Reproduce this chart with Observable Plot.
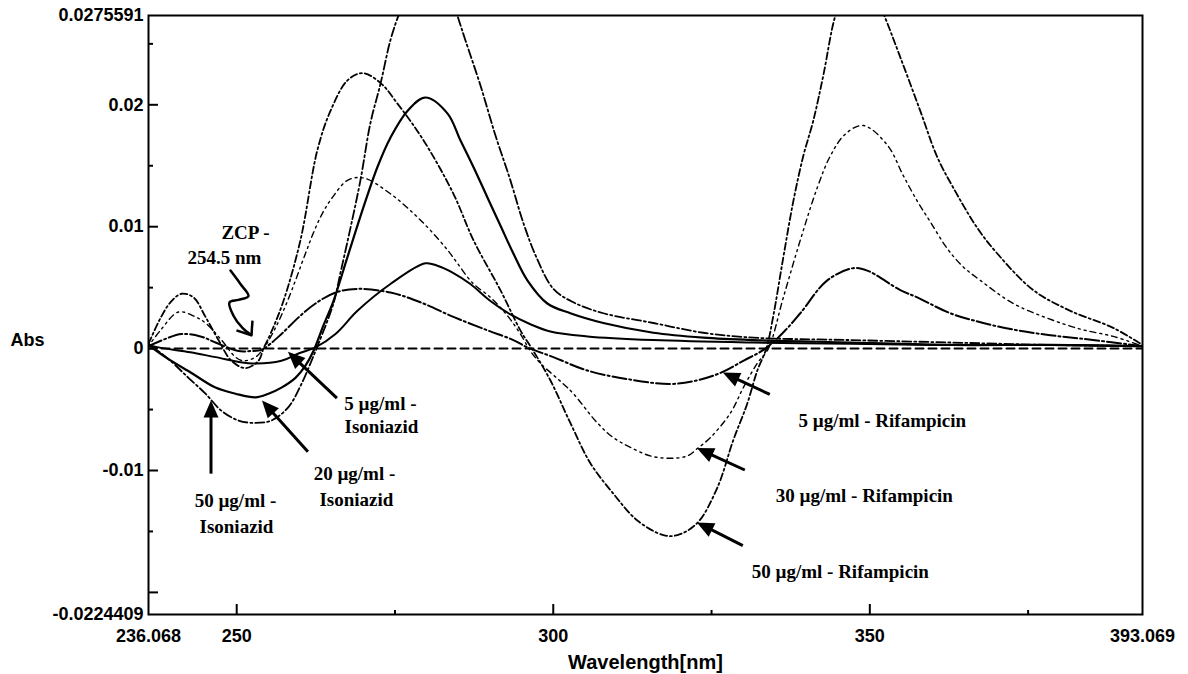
<!DOCTYPE html>
<html>
<head>
<meta charset="utf-8">
<script src="https://cdn.jsdelivr.net/npm/d3@7"></script>
<script src="https://cdn.jsdelivr.net/npm/@observablehq/plot@0.6"></script>
<style>
  html, body { margin: 0; padding: 0; background: #fff; }
  #chart svg { display: block; }
</style>
</head>
<body>
<div id="chart"></div>
<script>
// ---------- data (wavelength in nm, first-derivative absorbance) ----------
const iso5Nm  = [236.07,237.65,242.70,246.65,251.86,257.07,259.75,262.44,265.60,269.07,274.28,279.81,281.70,284.23,286.91,290.07,293.23,296.39,299.54,305.39,315.81,331.60,346.92,362.71,378.50,393.07];
const iso5Abs = [0.0003,0.0001,-0.0003,-0.0007,-0.0012,-0.0010,-0.0004,0.0001,0.0012,0.0031,0.0053,0.0070,0.0068,0.0062,0.0053,0.0039,0.0028,0.0020,0.0014,0.0010,0.0007,0.0005,0.0004,0.0003,0.0003,0.0002];

const iso20Nm  = [236.07,238.75,242.86,246.65,249.81,252.96,255.02,257.07,259.28,260.86,262.12,263.70,265.28,267.49,270.02,272.23,274.28,276.97,279.81,283.28,285.33,287.39,289.60,291.65,293.70,295.91,299.07,302.70,307.91,315.81,323.70,331.60,346.92,362.71,378.50,393.07];
const iso20Abs = [0.0003,-0.0007,-0.0020,-0.0032,-0.0037,-0.0040,-0.0037,-0.0032,-0.0024,-0.0014,-0.0002,0.0019,0.0039,0.0075,0.0116,0.0149,0.0173,0.0195,0.0206,0.0193,0.0171,0.0149,0.0124,0.0101,0.0078,0.0056,0.0037,0.0029,0.0021,0.0013,0.0009,0.0007,0.0005,0.0003,0.0003,0.0002];

const iso50Nm  = [236.07,239.54,242.38,245.07,247.60,250.28,252.96,255.49,258.17,260.23,261.81,262.91,265.28,266.38,267.97,269.54,271.12,272.70,274.28,275.54,277.12,278.70,280.28,281.86,283.44,284.86,286.12,288.49,290.86,293.23,295.28,297.33,300.02,303.18,307.91,315.81,323.70,331.60,346.92,362.71,378.50,393.07];
const iso50Abs = [0.0004,-0.0010,-0.0024,-0.0037,-0.0051,-0.0059,-0.0061,-0.0059,-0.0048,-0.0029,-0.0010,0.0004,0.0037,0.0062,0.0099,0.0138,0.0185,0.0217,0.0253,0.0273,0.0292,0.0305,0.0310,0.0307,0.0295,0.0273,0.0253,0.0216,0.0175,0.0138,0.0103,0.0075,0.0049,0.0038,0.0029,0.0021,0.0013,0.0009,0.0007,0.0005,0.0003,0.0002];

const rif5Nm  = [236.07,238.75,241.28,244.28,246.65,250.28,252.17,253.91,255.33,257.07,260.07,262.44,265.60,269.07,274.28,279.02,284.23,289.60,293.70,295.91,300.02,305.39,311.70,318.49,322.76,326.39,330.02,333.50,336.65,339.02,343.28,347.39,349.60,354.81,357.49,362.71,367.92,373.29,378.50,383.71,393.07];
const rif5Abs = [0.0002,0.0008,0.0012,0.0010,0.0005,-0.0002,-0.0002,-0.0001,0.0004,0.0012,0.0027,0.0037,0.0046,0.0049,0.0046,0.0038,0.0026,0.0015,0.0007,0.0001,-0.0007,-0.0018,-0.0025,-0.0029,-0.0026,-0.0020,-0.0010,0.0000,0.0015,0.0029,0.0056,0.0066,0.0064,0.0048,0.0042,0.0029,0.0021,0.0015,0.0011,0.0008,0.0002];

const rif30Nm  = [236.07,237.96,240.80,243.49,245.07,247.60,249.81,251.07,252.96,254.23,256.12,258.02,260.86,262.12,263.54,265.12,267.49,270.02,274.28,277.91,280.60,283.28,284.86,287.23,290.07,292.76,294.81,296.39,297.97,301.60,303.18,306.97,309.49,312.18,315.33,318.49,321.18,322.76,324.81,327.97,330.02,332.23,333.97,336.34,339.02,341.70,343.76,346.13,348.97,352.76,355.28,357.49,359.55,362.24,364.76,367.44,372.65,378.02,383.24,388.44,393.07];
const rif30Abs = [0.0002,0.0015,0.0030,0.0026,0.0021,0.0007,-0.0007,-0.0010,-0.0007,0.0000,0.0017,0.0039,0.0078,0.0095,0.0111,0.0124,0.0138,0.0140,0.0127,0.0111,0.0097,0.0081,0.0070,0.0054,0.0042,0.0027,0.0012,-0.0002,-0.0012,-0.0029,-0.0037,-0.0061,-0.0073,-0.0081,-0.0088,-0.0090,-0.0088,-0.0082,-0.0073,-0.0053,-0.0032,-0.0012,0.0000,0.0042,0.0089,0.0132,0.0158,0.0176,0.0183,0.0167,0.0142,0.0121,0.0104,0.0082,0.0067,0.0056,0.0037,0.0025,0.0016,0.0010,0.0002];

const rif50Nm  = [236.07,237.96,239.54,241.28,243.17,245.07,247.12,249.17,251.38,253.44,254.23,255.33,257.38,260.07,262.75,264.81,267.49,269.86,272.70,275.39,279.49,284.23,287.39,291.65,294.81,296.86,299.54,302.70,305.86,309.49,313.28,317.39,319.60,322.76,325.92,328.44,330.65,332.23,333.65,334.76,336.34,337.92,339.49,341.07,342.65,344.55,346.28,348.18,350.07,352.13,354.81,357.97,360.66,363.18,366.97,370.13,375.81,381.66,388.44,393.07];
const rif50Abs = [0.0004,0.0025,0.0038,0.0045,0.0042,0.0026,0.0007,-0.0010,-0.0016,-0.0010,0.0000,0.0012,0.0039,0.0089,0.0163,0.0195,0.0220,0.0226,0.0218,0.0201,0.0171,0.0127,0.0089,0.0048,0.0015,-0.0002,-0.0026,-0.0061,-0.0094,-0.0119,-0.0141,-0.0153,-0.0153,-0.0143,-0.0114,-0.0075,-0.0045,-0.0018,0.0000,0.0027,0.0075,0.0121,0.0158,0.0187,0.0224,0.0273,0.0295,0.0306,0.0298,0.0275,0.0239,0.0195,0.0157,0.0132,0.0099,0.0078,0.0048,0.0031,0.0017,0.0003];

const baseNm  = [236.068, 393.069];
const baseAbs = [0, 0];

// axis ticks and labels
const xDomain = [236.068, 393.069];
const yDomain = [-0.021813, 0.027326];
const xLabelTicks = [236.068, 250, 300, 350, 393.069];
const xLabelText  = ["236.068", "250", "300", "350", "393.069"];
const xMajor = [250, 300, 350];
const xMinor = [275, 325, 375];
const yLabelTicks = [-0.021813, -0.01, 0, 0.01, 0.02, 0.027326];
const yLabelText  = ["-0.0224409", "-0.01", "0", "0.01", "0.02", "0.0275591"];
const yMajor = [-0.02, -0.01, 0, 0.01, 0.02];
const yMinor = [-0.015, -0.005, 0.005, 0.015, 0.025];

// annotations
const noteText = ["ZCP -", "254.5 nm", "5 µg/ml -", "Isoniazid", "20 µg/ml -", "Isoniazid", "50 µg/ml -", "Isoniazid",
                  "5 µg/ml - Rifampicin", "30 µg/ml - Rifampicin", "50 µg/ml - Rifampicin"];
const noteNm  = [251.38, 248.07, 272.70, 272.86, 268.60, 268.91, 249.81, 249.96, 351.97, 349.13, 345.34];
const noteAbs = [0.0095, 0.0074, -0.0045, -0.0064, -0.0103, -0.0124, -0.0125, -0.0146, -0.0059, -0.0121, -0.0183];

const arrowFromNm  = [265.91, 261.33, 246.02, 334.28, 330.33, 330.02];
const arrowFromAbs = [-0.0041, -0.0085, -0.0103, -0.0038, -0.0100, -0.0162];
const arrowToNm    = [258.17, 254.07, 246.02, 326.86, 322.76, 322.76];
const arrowToAbs   = [-0.0003, -0.0043, -0.0043, -0.0020, -0.0082, -0.0143];

const zcpNm  = [249.02, 250.59, 251.86, 250.28, 248.86, 249.49, 250.91, 252.33];
const zcpAbs = [0.0064, 0.0053, 0.0043, 0.0040, 0.0038, 0.0027, 0.0017, 0.0011];
const zcpArmNm  = [249.96, 252.49];
const zcpArmAbs = [0.0015, 0.0023];

// ---------- build ----------
const toRows = (nm, abs) => nm.map((w, i) => ({nm: w, abs: abs[i]}));
const series = [
  {rows: toRows(baseNm, baseAbs),   dash: "8,5",            width: 2},
  {rows: toRows(iso5Nm, iso5Abs),   dash: null,             width: 2},
  {rows: toRows(iso20Nm, iso20Abs), dash: null,             width: 2.2},
  {rows: toRows(iso50Nm, iso50Abs), dash: "9,3,2,3",        width: 1.8},
  {rows: toRows(rif5Nm, rif5Abs),   dash: "14,3,2,3",       width: 2},
  {rows: toRows(rif30Nm, rif30Abs), dash: "2,4,2,4,6,4",    width: 1.4},
  {rows: toRows(rif50Nm, rif50Abs), dash: "7,3,2,3",        width: 1.8}
];

const xFmt = new Map(xLabelTicks.map((t, i) => [t, xLabelText[i]]));
const yFmt = new Map(yLabelTicks.map((t, i) => [t, yLabelText[i]]));
const noteIdx = noteText.map((_, i) => i);
const arrowIdx = arrowFromNm.map((_, i) => i);

function arrowsMark(index, scales) {
  const g = d3.create("svg:g");
  for (const i of arrowIdx) {
    const x1 = scales.x(arrowFromNm[i]), y1 = scales.y(arrowFromAbs[i]);
    const x2 = scales.x(arrowToNm[i]),   y2 = scales.y(arrowToAbs[i]);
    const a = Math.atan2(y2 - y1, x2 - x1);
    const L = 17, Wd = 7.5;
    const bx = x2 - L * Math.cos(a), by = y2 - L * Math.sin(a);
    g.append("line")
      .attr("x1", x1).attr("y1", y1).attr("x2", bx + 2 * Math.cos(a)).attr("y2", by + 2 * Math.sin(a))
      .attr("stroke", "black").attr("stroke-width", 3);
    g.append("path")
      .attr("d", `M${x2},${y2}L${bx + Wd * Math.sin(a)},${by - Wd * Math.cos(a)}L${bx - Wd * Math.sin(a)},${by + Wd * Math.cos(a)}Z`)
      .attr("fill", "black");
  }
  return g.node();
}

const serif = "'Liberation Serif', 'Times New Roman', serif";

const chart = Plot.plot({
  width: 1188,
  height: 674,
  marginLeft: 148,
  marginRight: 46,
  marginTop: 15,
  marginBottom: 60,
  x: {domain: xDomain, label: null},
  y: {domain: yDomain, label: null},
  style: {fontFamily: "'Liberation Sans', Arial, sans-serif", fontSize: "18px", fontWeight: "bold", background: "#fff", color: "#000"},
  marks: [
    // curves
    ...series.map(s => Plot.line(s.rows, {
      x: "nm", y: "abs", curve: "catmull-rom", stroke: "black",
      strokeWidth: s.width, strokeDasharray: s.dash, clip: true
    })),
    // ticks (pointing inward)
    Plot.ruleY(yMajor, {insetRight: 984, strokeWidth: 2}),
    Plot.ruleY(yMinor, {insetRight: 989, strokeWidth: 2}),
    Plot.ruleX(xMajor, {insetTop: 589, strokeWidth: 2}),
    Plot.ruleX(xMinor, {insetTop: 595, strokeWidth: 2}),
    Plot.frame({strokeWidth: 2}),
    // tick labels
    Plot.axisY({ticks: yLabelTicks, tickSize: 0, tickPadding: 5, tickFormat: d => yFmt.get(d), label: null}),
    Plot.axisX({ticks: xLabelTicks, tickSize: 0, tickPadding: 15, tickFormat: d => xFmt.get(d), label: null}),
    // axis titles
    Plot.text(["Wavelength[nm]"], {frameAnchor: "bottom", dy: 48, fontSize: 20, lineAnchor: "middle", text: d => d}),
    Plot.text(["Abs"], {frameAnchor: "left", dx: -121, dy: 25, textAnchor: "middle", text: d => d}),
    // annotations
    Plot.text(noteIdx, {
      x: i => noteNm[i], y: i => noteAbs[i], text: i => noteText[i],
      fontFamily: serif, fontSize: 19, fontWeight: "bold", textAnchor: "middle", lineAnchor: "middle"
    }),
    Plot.line(zcpNm.map((w, i) => ({nm: w, abs: zcpAbs[i]})), {x: "nm", y: "abs", curve: "catmull-rom", stroke: "black", strokeWidth: 2.5}),
    Plot.link(zcpArmNm.map((w, i) => ({nm: w, abs: zcpArmAbs[i]})), {
      x1: "nm", y1: "abs", x2: () => zcpNm[zcpNm.length - 1], y2: () => zcpAbs[zcpAbs.length - 1],
      stroke: "black", strokeWidth: 2.5
    }),
    arrowsMark
  ]
});
document.getElementById("chart").appendChild(chart);
</script>
</body>
</html>
